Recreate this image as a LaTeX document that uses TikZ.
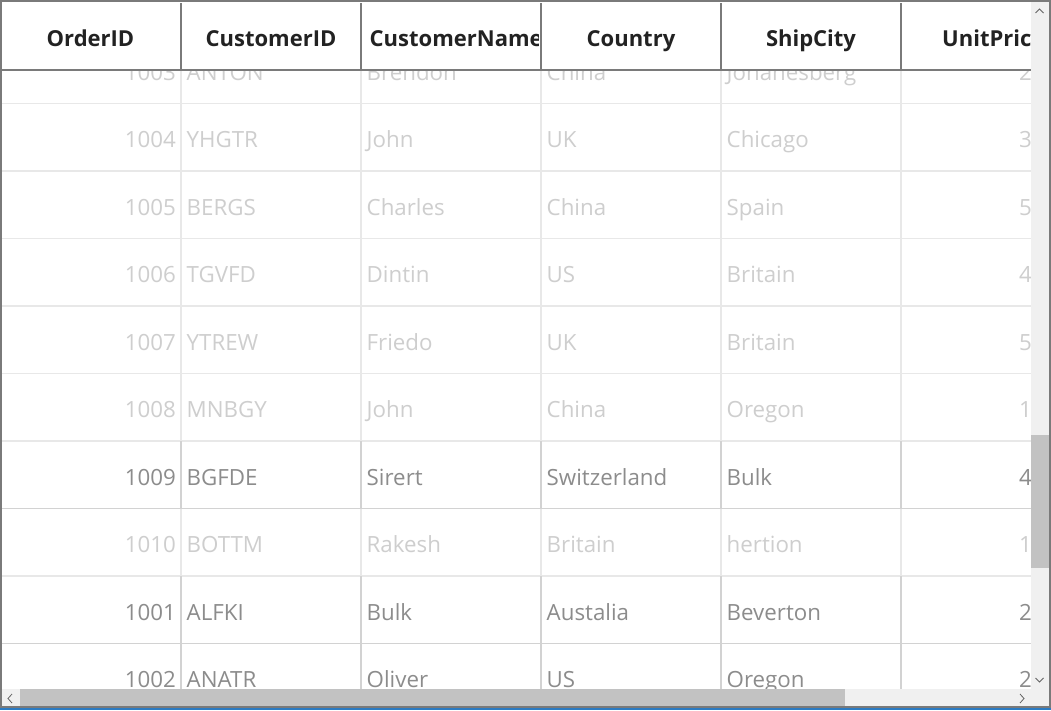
\documentclass[tikz,border=0pt]{standalone}
\usepackage{fontspec}
\setmainfont{Open Sans}
\definecolor{frame}{RGB}{122,122,122}
\definecolor{hdrtext}{RGB}{34,34,34}
\definecolor{fadetext}{RGB}{206,206,206}
\definecolor{darktext}{RGB}{140,140,140}
\definecolor{fadeline}{RGB}{232,232,232}
\definecolor{darkline}{RGB}{210,210,210}
\definecolor{sbbg}{RGB}{240,240,240}
\definecolor{sbthumb}{RGB}{194,194,194}
\definecolor{sbarrow}{RGB}{100,100,100}
\definecolor{accent}{RGB}{43,123,195}
\tikzset{
  cellfade/.style={inner sep=0pt, text=fadetext, font=\fontsize{22.3}{26}\selectfont},
  celldark/.style={inner sep=0pt, text=darktext, font=\fontsize{22.3}{26}\selectfont},
  linefade/.style={draw=fadeline, line width=1.6pt},
  linedark/.style={draw=darkline, line width=1.6pt},
  hdrcell/.style={inner sep=0pt, text=hdrtext, font=\bfseries\fontsize{22}{26}\selectfont, anchor=base},
  hdrline/.style={draw=frame, line width=1.6pt},
  chevron/.style={draw=sbarrow, line width=0.8pt},
}
\begin{document}
\begin{tikzpicture}[x=1pt,y=-1pt]
\useasboundingbox (0,0) rectangle (1051,710);
\fill[white] (0,0) rectangle (1051,710);
% body rows
\begin{scope}
\clip (2,70) rectangle (1031,689);
\foreach \k/\st/\oid/\cid/\cn/\co/\sc/\up in {
  0/fade/1003/ANTON/Brendon/China/Johanesberg/2,
  1/fade/1004/YHGTR/John/UK/Chicago/3,
  2/fade/1005/BERGS/Charles/China/Spain/5,
  3/fade/1006/TGVFD/Dintin/US/Britain/4,
  4/fade/1007/YTREW/Friedo/UK/Britain/5,
  5/fade/1008/MNBGY/John/China/Oregon/1,
  6/dark/1009/BGFDE/Sirert/Switzerland/Bulk/4,
  7/fade/1010/BOTTM/Rakesh/Britain/hertion/1,
  8/dark/1001/ALFKI/Bulk/Austalia/Beverton/2,
  9/dark/1002/ANATR/Oliver/US/Oregon/2}{
  \pgfmathsetmacro\rtop{36+67.5*\k}
  \pgfmathsetmacro\rbot{\rtop+67.5}
  \pgfmathsetmacro\rbl{\rtop+44}
  \draw[line\st] (2,\rbot) -- (1031,\rbot);
  \foreach \x in {181,361,541,721,901} \draw[line\st] (\x,\rtop) -- (\x,\rbot);
  \node[cell\st, anchor=base east] (oid\k) at (176,\rbl) {\oid};
  \node[cell\st, anchor=base west] (cid\k) at (186.5,\rbl) {\cid};
  \node[cell\st, anchor=base west] (cn\k) at (366.5,\rbl) {\cn};
  \node[cell\st, anchor=base west] (co\k) at (546.5,\rbl) {\co};
  \node[cell\st, anchor=base west] (sc\k) at (726.5,\rbl) {\sc};
  \node[cell\st, anchor=base west] (up\k) at (1019,\rbl) {\up};
}
\end{scope}
% header
\node[hdrcell] (hOrder) at (90.5,46) {OrderID};
\node[hdrcell] (hCust) at (271,46) {CustomerID};
\begin{scope}
\clip (361,2) rectangle (538.5,69);
\node[hdrcell, anchor=base west] (hName) at (369.5,46) {CustomerName};
\end{scope}
\node[hdrcell] (hCountry) at (631,46) {Country};
\node[hdrcell] (hCity) at (811,46) {ShipCity};
\begin{scope}
\clip (901,2) rectangle (1031,69);
\node[hdrcell, anchor=base west] (hPrice) at (942,46) {UnitPrice};
\end{scope}
\foreach \x in {181,361,541,721,901} \draw[hdrline] (\x,3) -- (\x,69);
\draw[draw=frame, line width=2pt] (2,69.5) -- (1031,69.5);
% scrollbars
\fill[sbbg] (1031,2) rectangle (1049,707);
\fill[sbbg] (2,689) rectangle (1031,707);
\fill[sbthumb] (1031,435) rectangle (1049,568);
\fill[sbthumb] (20,689) rectangle (845,707);
\coordinate (upA) at (1035.5,13); \coordinate (upB) at (1039.5,9); \coordinate (upC) at (1043.5,13);
\draw[chevron] (upA) -- (upB) -- (upC);
\coordinate (dnA) at (1035.5,678); \coordinate (dnB) at (1039.5,682); \coordinate (dnC) at (1043.5,678);
\draw[chevron] (dnA) -- (dnB) -- (dnC);
\coordinate (lfA) at (12,694); \coordinate (lfB) at (8,698.5); \coordinate (lfC) at (12,703);
\draw[chevron] (lfA) -- (lfB) -- (lfC);
\coordinate (rtA) at (1020,694); \coordinate (rtB) at (1024,698.5); \coordinate (rtC) at (1020,703);
\draw[chevron] (rtA) -- (rtB) -- (rtC);
% frame
\draw[draw=frame, line width=2pt] (1,1) rectangle (1050,707);
\fill[accent] (0,708) rectangle (1051,710);
\end{tikzpicture}
\end{document}
